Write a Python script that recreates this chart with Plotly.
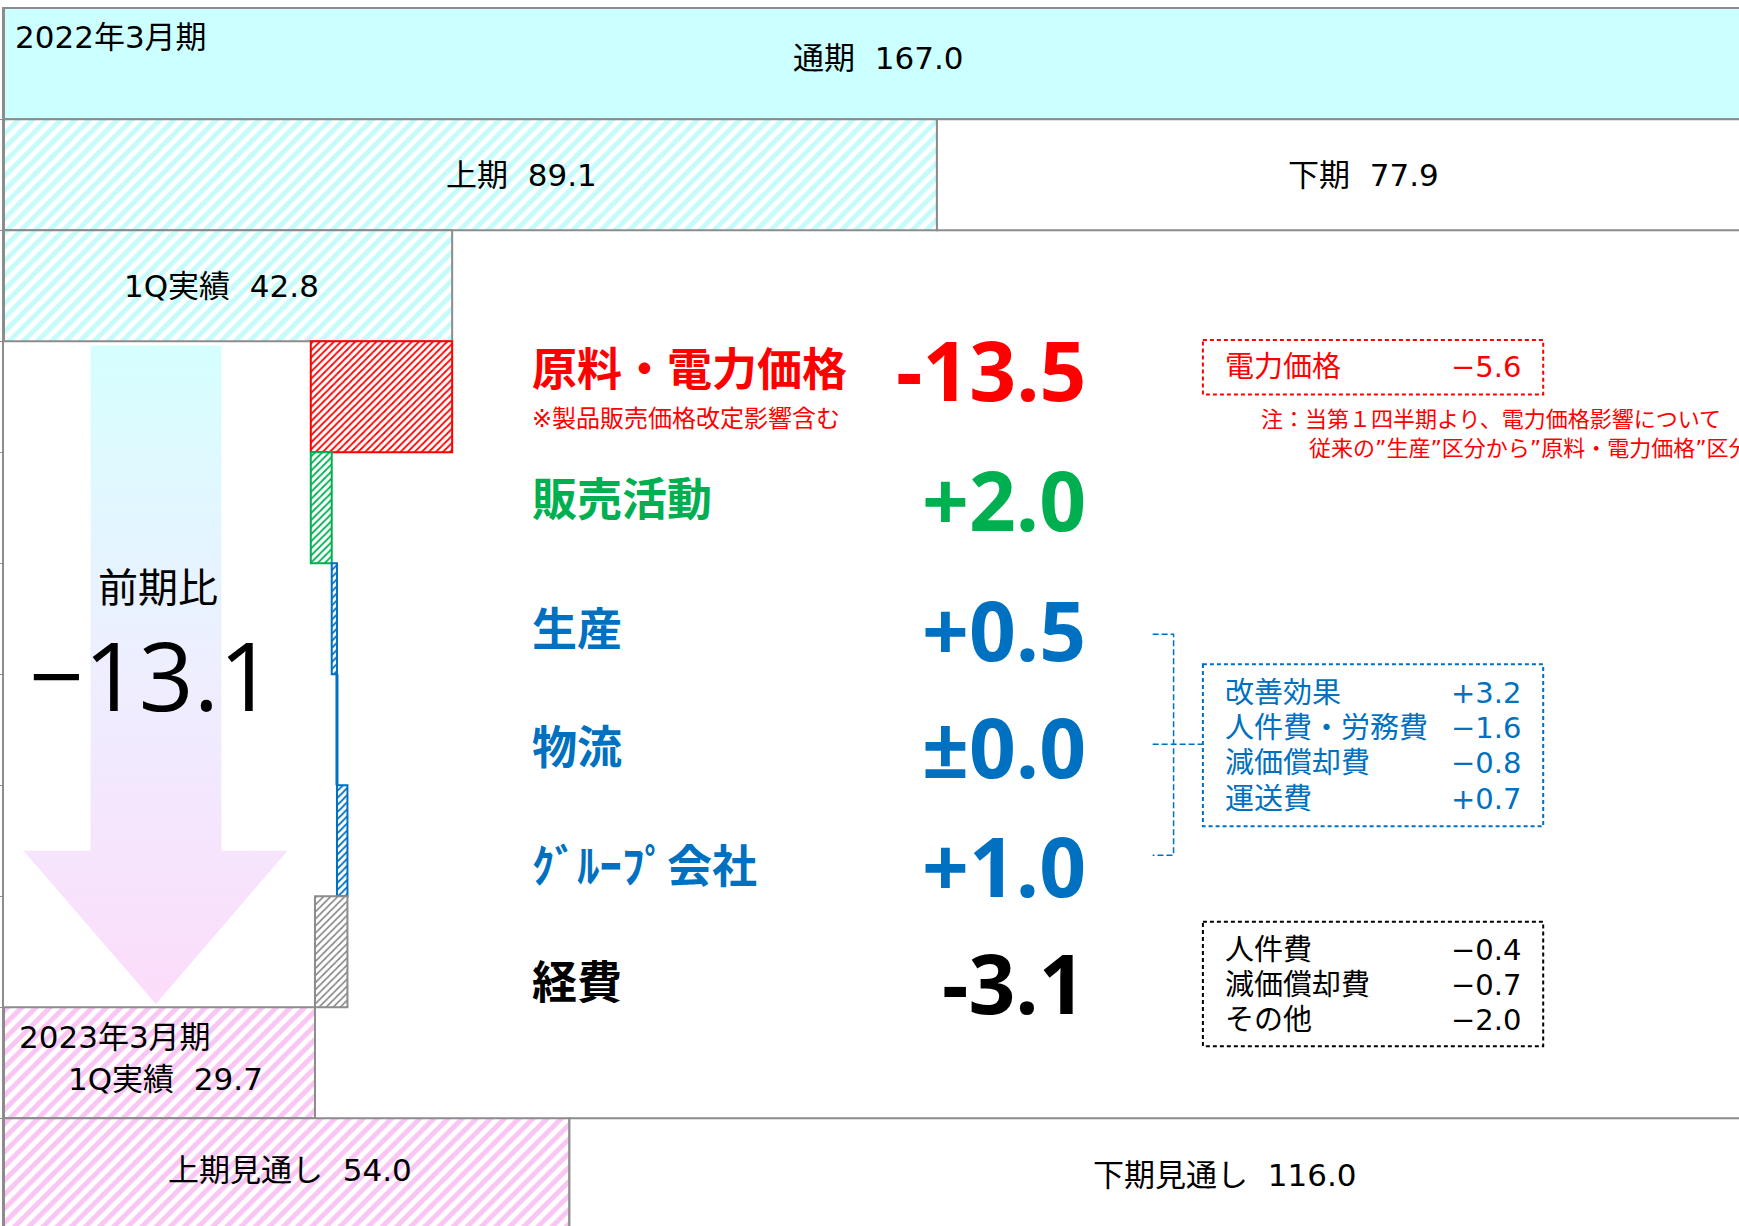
import plotly.graph_objects as go

# ---------------- data ----------------
prev_year_label = "2022年3月期"
prev_full_label = "通期"
prev_full = 167.0
prev_half_labels = ["上期", "下期"]
prev_half = [89.1, 77.9]
prev_q1_label = "1Q実績"
prev_q1 = 42.8

factor_names = ["原料・電力価格", "販売活動", "生産", "物流", "ｸﾞﾙｰﾌﾟ会社", "経費"]
factor_values = [-13.5, 2.0, 0.5, 0.0, 1.0, -3.1]
factor_texts = ["-13.5", "+2.0", "+0.5", "±0.0", "+1.0", "-3.1"]
factor_subnote = "※製品販売価格改定影響含む"

curr_year_label = "2023年3月期"
curr_q1_label = "1Q実績"
curr_q1 = 29.7
fc_half_labels = ["上期見通し", "下期見通し"]
fc_half = [54.0, 116.0]

yoy_label = "前期比"
yoy_text = "−13.1"

power_label = "電力価格"
power_value = "−5.6"
note_lines = ["注：当第１四半期より、電力価格影響について",
              "従来の”生産”区分から”原料・電力価格”区分へ変更"]

prod_items = ["改善効果", "人件費・労務費", "減価償却費", "運送費"]
prod_vals = ["+3.2", "−1.6", "−0.8", "+0.7"]

cost_items = ["人件費", "減価償却費", "その他"]
cost_vals = ["−0.4", "−0.7", "−2.0"]

# ---------------- styles ----------------
FONT_REG = "DejaVu Sans, Noto Sans CJK JP, sans-serif"
FONT_BOLD = "Open Sans, Noto Sans CJK JP, sans-serif"
GRAY = "#8C8C8C"
RED = "#FF0000"
GREEN = "#00B050"
BLUE = "#0070C0"
CYAN = "#CCFFFF"

def hatch(color, size, solidity):
    return dict(shape="/", fgcolor=color, bgcolor="white", size=size,
                solidity=solidity, fillmode="replace")

cyan_hatch = hatch("#C6FBFB", 10, 0.5)
pink_hatch = hatch("#F9C6F3", 10, 0.5)
factor_line_colors = [RED, GREEN, BLUE, BLUE, BLUE, GRAY]
factor_text_colors = [RED, GREEN, BLUE, BLUE, BLUE, "black"]
factor_patterns = [hatch(RED, 5, 0.35), hatch(GREEN, 5, 0.35), hatch(BLUE, 5, 0.35),
                   hatch(BLUE, 5, 0.35), hatch(BLUE, 5, 0.35), hatch("#7F7F7F", 5, 0.3)]

fig = go.Figure()

# ---------------- gradient arrow (decoration) ----------------
ax = [8.26, 20.77, 20.77, 27.08, 14.5, 1.86, 8.26, 8.26]
ay = [2.54, 2.54, 7.09, 7.09, 8.47, 7.09, 7.09, 2.54]
fig.add_trace(go.Scatter(
    x=ax, y=ay, mode="lines", fill="toself", line=dict(width=0),
    fillgradient=dict(type="vertical", start=2.54, stop=8.47,
                      colorscale=[[0, "#D6FFFF"], [0.5, "#EEEEFF"], [1, "#FCDCFA"]]),
    hoverinfo="skip", showlegend=False))


def hbar(row, length, base, line_color, fill="white", pattern=None, lw=2):
    marker = dict(color=fill, line=dict(color=line_color, width=lw))
    if pattern is not None:
        marker["pattern"] = pattern
    fig.add_trace(go.Bar(y=[row], x=[length], base=[base], orientation="h", width=1,
                         marker=marker, hoverinfo="skip", showlegend=False))


# row 0: previous full year
hbar(0, prev_full, 0, GRAY, fill=CYAN)
# row 1: halves
hbar(1, prev_half[0], 0, GRAY, pattern=cyan_hatch)
hbar(1, prev_half[1], prev_half[0], GRAY, fill="white")
# row 2: previous 1Q
hbar(2, prev_q1, 0, GRAY, pattern=cyan_hatch)

# rows 3-8: waterfall
running = prev_q1
for i, v in enumerate(factor_values):
    row = 3 + i
    new = running + v
    if v != 0:
        hbar(row, abs(v), min(running, new), factor_line_colors[i],
             pattern=factor_patterns[i], lw=2)
    else:
        fig.add_trace(go.Scatter(x=[running, running], y=[row - 0.5, row + 0.5], mode="lines",
                                 line=dict(color=factor_line_colors[i], width=3),
                                 hoverinfo="skip", showlegend=False))
    running = new

# row 9: current 1Q
hbar(9, curr_q1, 0, GRAY, pattern=pink_hatch)
# row 10: forecast halves
hbar(10, fc_half[0], 0, GRAY, pattern=pink_hatch)
hbar(10, fc_half[1], fc_half[0], GRAY, fill="white")

# ---------------- annotations ----------------
ann = []
def txt(x, y, s, size, color="black", xanchor="center", bold=False, family=FONT_REG):
    ann.append(dict(x=x, y=y, xref="x", yref="y", text=s, showarrow=False,
                    xanchor=xanchor, yanchor="middle",
                    font=dict(family=family, size=size, color=color,
                              weight="bold" if bold else "normal")))

SP = "\u00a0\u00a0"
txt(0.86, -0.24, prev_year_label, 31, xanchor="left")
txt(prev_full / 2, -0.05, prev_full_label + SP + f"{prev_full:.1f}", 31)
txt(49.4, 1.0, prev_half_labels[0] + SP + f"{prev_half[0]:.1f}", 31)
txt(129.8, 1.0, prev_half_labels[1] + SP + f"{prev_half[1]:.1f}", 31)
txt(20.8, 2.0, prev_q1_label + SP + f"{prev_q1:.1f}", 31)
txt(1.24, 8.77, curr_year_label, 31, xanchor="left")
txt(15.4, 9.15, curr_q1_label + SP + f"{curr_q1:.1f}", 31)
txt(27.3, 9.97, fc_half_labels[0] + SP + f"{fc_half[0]:.1f}", 31)
txt(116.6, 10.01, fc_half_labels[1] + SP + f"{fc_half[1]:.1f}", 31)

label_y = [2.75, 3.92, 5.09, 6.15, 7.22, 8.27]
for i, name in enumerate(factor_names):
    txt(50.2, label_y[i], name, 45, color=factor_text_colors[i], xanchor="left",
        bold=True, family=FONT_BOLD)
    txt(103.5, label_y[i], factor_texts[i], 82, color=factor_text_colors[i], xanchor="right",
        bold=True, family=FONT_BOLD)
txt(50.2, 3.2, factor_subnote, 24, color=RED, xanchor="left")

txt(14.7, 4.72, yoy_label, 40)
txt(14.1, 5.49, yoy_text, 96, family=FONT_BOLD)

# power price box
txt(116.4, 2.73, power_label, 29, color=RED, xanchor="left")
txt(145.1, 2.73, power_value, 29, color=RED, xanchor="right")
txt(119.9, 3.21, note_lines[0], 22, color=RED, xanchor="left")
txt(124.4, 3.47, note_lines[1], 22, color=RED, xanchor="left")

prod_y = [5.67, 5.98, 6.30, 6.62]
for i in range(len(prod_items)):
    txt(116.4, prod_y[i], prod_items[i], 29, color=BLUE, xanchor="left")
    txt(145.1, prod_y[i], prod_vals[i], 29, color=BLUE, xanchor="right")

cost_y = [7.98, 8.30, 8.61]
for i in range(len(cost_items)):
    txt(116.4, cost_y[i], cost_items[i], 29, color="black", xanchor="left")
    txt(145.1, cost_y[i], cost_vals[i], 29, color="black", xanchor="right")

# ---------------- dashed boxes & bracket ----------------
DASH = "4px,3px"
shapes = [
    dict(type="rect", xref="x", yref="y", x0=114.5, x1=147.0, y0=2.49, y1=2.98,
         line=dict(color=RED, width=2, dash=DASH)),
    dict(type="rect", xref="x", yref="y", x0=114.5, x1=147.0, y0=5.41, y1=6.87,
         line=dict(color=BLUE, width=2, dash=DASH)),
    dict(type="rect", xref="x", yref="y", x0=114.5, x1=147.0, y0=7.73, y1=8.85,
         line=dict(color="black", width=2, dash=DASH)),
    dict(type="path", xref="x", yref="y",
         path="M 109.7 5.14 L 111.7 5.14 L 111.7 7.13 L 109.7 7.13",
         line=dict(color=BLUE, width=1.5, dash="6px,3px")),
    dict(type="line", xref="x", yref="y", x0=109.7, x1=114.5, y0=6.13, y1=6.13,
         line=dict(color=BLUE, width=1.5, dash="6px,3px")),
]

fig.update_layout(
    width=1739, height=1226,
    margin=dict(l=4, r=0, t=7, b=0),
    plot_bgcolor="white", paper_bgcolor="white",
    barmode="overlay", showlegend=False,
    font=dict(family=FONT_REG, color="black"),
    annotations=ann, shapes=shapes,
)
fig.update_xaxes(range=[0, 165.7], visible=False, fixedrange=True)
fig.update_yaxes(range=[10.47, -0.51], showline=True, linecolor=GRAY, linewidth=2,
                 ticks="outside", ticklen=4, tickcolor=GRAY, tickwidth=1,
                 tickvals=[r + 0.5 for r in range(10)], showticklabels=False,
                 showgrid=False, zeroline=False, fixedrange=True)

fig.write_html("out.html", config={"displayModeBar": False},
               post_script="document.body.style.margin='0px';document.body.style.overflow='hidden';")
